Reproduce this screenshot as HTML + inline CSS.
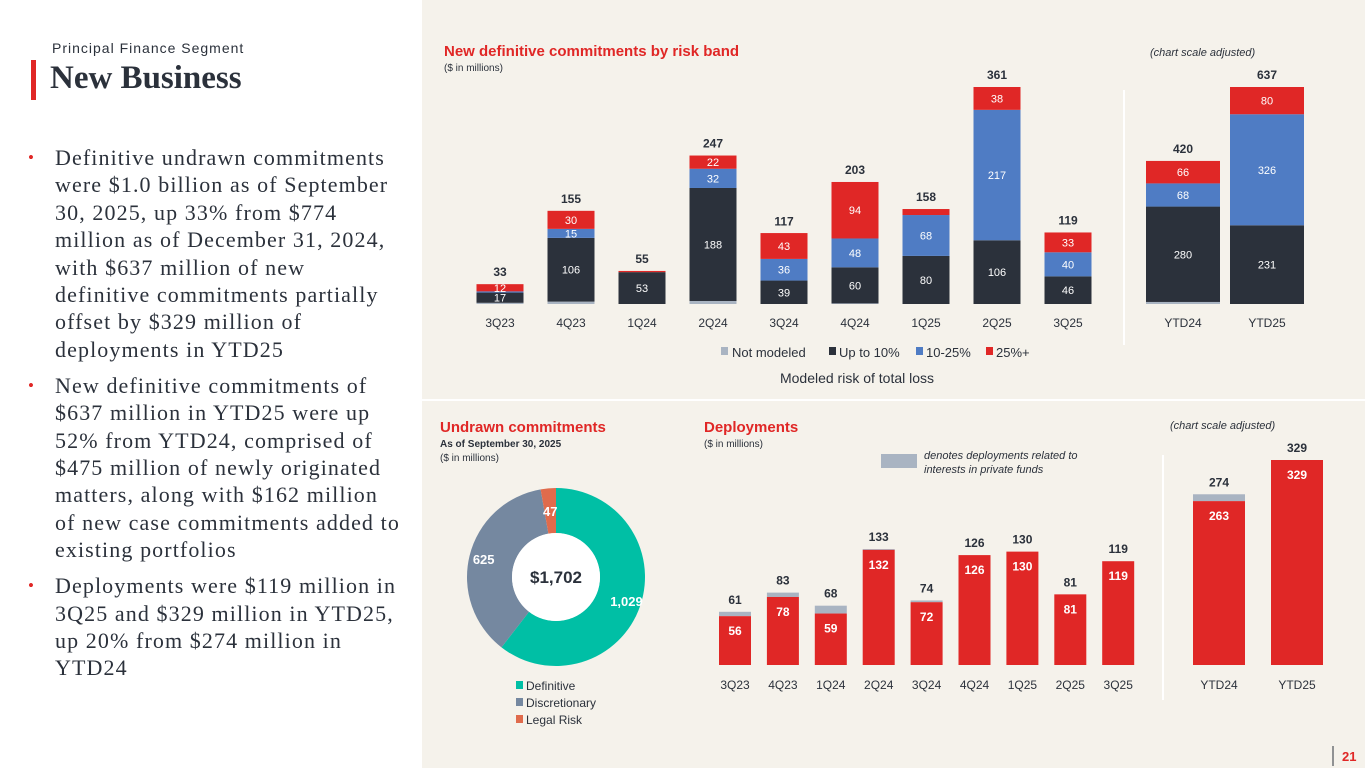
<!DOCTYPE html>
<html><head><meta charset="utf-8">
<style>
body{margin:0;width:1365px;height:768px;overflow:hidden;background:#fff;font-family:"Liberation Sans","DejaVu Sans",sans-serif;position:relative}
.panel{position:absolute;left:422px;top:0;width:943px;height:768px;background:#f5f2eb}
.seg{position:absolute;left:52px;top:40px;font-size:14px;letter-spacing:1px;color:#2b313b}
.title{position:absolute;left:50px;top:60px;font-family:"Liberation Serif",serif;font-weight:bold;font-size:33px;color:#2b313b}
.tbar{position:absolute;left:31px;top:60px;width:5px;height:40px;background:#e02726}
ul{position:absolute;left:28px;top:144px;width:372px;margin:0;padding:0;list-style:none;font-family:"Liberation Serif",serif;font-size:22px;letter-spacing:1.1px;line-height:27.4px;color:#2b313b}
li{position:relative;padding-left:27px;margin-bottom:8.5px}
li:before{content:"•";color:#e02726;position:absolute;left:0;font-size:17px}
svg{position:absolute;left:0;top:0}
</style></head><body>
<div class="panel"></div>
<div class="seg">Principal Finance Segment</div>
<div class="tbar"></div>
<div class="title">New Business</div>
<ul>
<li>Definitive undrawn commitments were $1.0 billion as of September 30, 2025, up 33% from $774 million as of December 31, 2024, with $637 million of new definitive commitments partially offset by $329 million of deployments in YTD25</li>
<li>New definitive commitments of $637 million in YTD25 were up 52% from YTD24, comprised of $475 million of newly originated matters, along with $162 million of new case commitments added to existing portfolios</li>
<li>Deployments were $119 million in 3Q25 and $329 million in YTD25, up 20% from $274 million in YTD24</li>
</ul>
<svg id="s" width="1365" height="768" xmlns="http://www.w3.org/2000/svg" font-family="Liberation Sans, DejaVu Sans, sans-serif">
<text x="444" y="56" font-size="15" font-weight="bold" fill="#e02726">New definitive commitments by risk band</text>
<text x="444" y="71" font-size="10" fill="#2b313b">($ in millions)</text>
<text x="1150" y="56" font-size="11" font-style="italic" fill="#2b313b">(chart scale adjusted)</text>
<line x1="1124" y1="90" x2="1124" y2="345" stroke="#fff" stroke-width="2"/>
<line x1="422" y1="400" x2="1365" y2="400" stroke="#fff" stroke-width="2"/>
<line x1="1163" y1="455" x2="1163" y2="700" stroke="#fff" stroke-width="2"/>
<g font-size="13" fill="#2b313b">
<rect x="721" y="347" width="7" height="8" fill="#a9b4c2"/><text x="732" y="357">Not modeled</text>
<rect x="829" y="347" width="7" height="8" fill="#2b313b"/><text x="839" y="357">Up to 10%</text>
<rect x="916" y="347" width="7" height="8" fill="#4f7cc4"/><text x="926" y="357">10-25%</text>
<rect x="986" y="347" width="7" height="8" fill="#e02726"/><text x="996" y="357">25%+</text>
</g>
<text x="857" y="383" font-size="14" text-anchor="middle" fill="#2b313b">Modeled risk of total loss</text>
<text x="704" y="432" font-size="15" font-weight="bold" fill="#e02726">Deployments</text>
<text x="704" y="447" font-size="10" fill="#2b313b">($ in millions)</text>
<rect x="881" y="454" width="36" height="14" fill="#a9b4c2"/>
<text x="924" y="459" font-size="11" font-style="italic" fill="#2b313b">denotes deployments related to</text>
<text x="924" y="473" font-size="11" font-style="italic" fill="#2b313b">interests in private funds</text>
<text x="1170" y="429" font-size="11" font-style="italic" fill="#2b313b">(chart scale adjusted)</text>
<text x="440" y="432" font-size="15" font-weight="bold" fill="#e02726">Undrawn commitments</text>
<text x="440" y="447" font-size="10" font-weight="bold" fill="#2b313b">As of September 30, 2025</text>
<text x="440" y="461" font-size="10" fill="#2b313b">($ in millions)</text>
<line x1="1333" y1="746" x2="1333" y2="766" stroke="#2b313b"/>
<text x="1342" y="761" font-size="13" font-weight="bold" fill="#e02726">21</text>
<g id="g"></g>
</svg>
<script>
const qCats=["3Q23","4Q23","1Q24","2Q24","3Q24","4Q24","1Q25","2Q25","3Q25"];
const qTotals=[33,155,55,247,117,203,158,361,119];
const qNotModeled=[2,4,0,5,0,1,0,0,0];
const qUpTo10=[17,106,53,188,39,60,80,106,46];
const q10to25=[2,15,0,32,36,48,68,217,40];
const q25plus=[12,30,2,22,43,94,10,38,33];
const qLabels25=["12","30","","22","43","94","","38","33"];
const qLabels1025=["","15","","32","36","48","68","217","40"];
const yCats=["YTD24","YTD25"];
const yTotals=[420,637];
const yNotModeled=[6,0];
const yUpTo10=[280,231];
const y10to25=[68,326];
const y25plus=[66,80];
const dCats=["3Q23","4Q23","1Q24","2Q24","3Q24","4Q24","1Q25","2Q25","3Q25"];
const dCore=[56,78,59,132,72,126,130,81,119];
const dTotals=[61,83,68,133,74,126,130,81,119];
const dyCats=["YTD24","YTD25"];
const dyCore=[263,329];
const dyTotals=[274,329];
const pieCats=["Definitive","Discretionary","Legal Risk"];
const pieVals=[1029,625,47];
const pieLabels=["1,029","625","47"];

const NS="http://www.w3.org/2000/svg",G=document.getElementById('g');
function el(t,a,txt){const e=document.createElementNS(NS,t);for(const k in a)e.setAttribute(k,a[k]);if(txt!==undefined)e.textContent=txt;G.appendChild(e);return e;}
const C={nm:"#a9b4c2",lo:"#2b313b",mid:"#4f7cc4",hi:"#e02726"};
function stack(cats,series,colors,names,labels,totals,x,yv,w,base){
  cats.forEach((c,i)=>{let acc=0;const cx=x(i);
    series.forEach((s,j)=>{const v=s[i];if(v<=0){return;}
      const y0=yv(acc),y1=yv(acc+v);
      const r=el('rect',{x:cx-w/2,y:y1,width:w,height:y0-y1,fill:colors[j]});
      
      
      const L=labels[j];
      if(L&&L[i]!==""&&L[i]!==undefined){const t=el('text',{x:cx,y:(y0+y1)/2+4,'font-size':11,'text-anchor':'middle',fill:'#fff'},L[i]);
        
        }
      acc+=v;});
    const tt=el('text',{x:cx,y:yv(totals[i])-8,'font-size':12,'font-weight':'bold','text-anchor':'middle',fill:'#2b313b'},totals[i]);
    
    
    const xl=el('text',{x:cx,y:base+23,'font-size':12,'text-anchor':'middle',fill:'#2b313b'},c);
    
    
  });
}
const B1=304,k1=217/361;
stack(qCats,[qNotModeled,qUpTo10,q10to25,q25plus],[C.nm,C.lo,C.mid,C.hi],["not-modeled","up-to-10","10-25","25-plus"],
 [null,qUpTo10.map(String),qLabels1025,qLabels25],qTotals,i=>500+i*71,v=>B1-v*k1,47,B1);
const k2=217/637;
stack(yCats,[yNotModeled,yUpTo10,y10to25,y25plus],[C.nm,C.lo,C.mid,C.hi],["not-modeled","up-to-10","10-25","25-plus"],
 [null,yUpTo10.map(String),y10to25.map(String),y25plus.map(String)],yTotals,i=>1183+i*84,v=>B1-v*k2,74,B1);
function dep(cats,core,totals,x,yv,w,base,pre){
  cats.forEach((c,i)=>{const cx=x(i);
    if(totals[i]>core[i]){const r=el('rect',{x:cx-w/2,y:yv(totals[i]),width:w,height:yv(core[i])-yv(totals[i]),fill:C.nm});
      
      }
    const r=el('rect',{x:cx-w/2,y:yv(core[i]),width:w,height:base-yv(core[i]),fill:C.hi});
    
    
    const v=el('text',{x:cx,y:yv(core[i])+19,'font-size':12,'font-weight':'bold','text-anchor':'middle',fill:'#fff'},core[i]);
    
    
    const t=el('text',{x:cx,y:yv(totals[i])-8,'font-size':12,'font-weight':'bold','text-anchor':'middle',fill:'#2b313b'},totals[i]);
    
    
    const xl=el('text',{x:cx,y:base+24,'font-size':12,'text-anchor':'middle',fill:'#2b313b'},c);
    
    
  });
}
const B2=665;
dep(dCats,dCore,dTotals,i=>735+i*47.9,v=>B2-v*116/133,32,B2,'deploy-');
dep(dyCats,dyCore,dyTotals,i=>1219+i*78,v=>B2-v*205/329,52,B2,'deploy-ytd-');
const pc=["#00bfa5","#7588a0","#e06b4c"],cx=556,cy=577,R=89,r0=44;
const tot=pieVals.reduce((a,b)=>a+b,0);let a0=0;
pieVals.forEach((v,i)=>{const a1=a0+v/tot*2*Math.PI;
  const p=(a,rr)=>[cx+rr*Math.sin(a),cy-rr*Math.cos(a)];
  const [x0,y0]=p(a0,R),[x1,y1]=p(a1,R),[x2,y2]=p(a1,r0),[x3,y3]=p(a0,r0);const lg=(a1-a0)>Math.PI?1:0;
  const s=el('path',{d:`M${x0},${y0}A${R},${R} 0 ${lg} 1 ${x1},${y1}L${x2},${y2}A${r0},${r0} 0 ${lg} 0 ${x3},${y3}Z`,fill:pc[i]});
  
  
  const m=(a0+a1)/2,rm=i==2?(R+r0)/2:(R+r0)/2+8,[lx,ly]=p(m,rm);
  const t=el('text',{x:lx,y:ly+5,'font-size':13,'font-weight':'bold','text-anchor':'middle',fill:'#fff'},pieLabels[i]);
  
  
  const sq=el('rect',{x:516,y:681+i*17,width:7,height:8,fill:pc[i]});
  
  
  const lgd=el('text',{x:526,y:690+i*17,'font-size':12,fill:'#2b313b'},pieCats[i]);
  
  
  a0=a1;});
const hole=el('circle',{cx:cx,cy:cy,r:r0,fill:'#fff'});


const ct=el('text',{x:cx,y:cy+6,'font-size':17,'font-weight':'bold','text-anchor':'middle',fill:'#2b313b'},'$1,702');


</script>
</body></html>
